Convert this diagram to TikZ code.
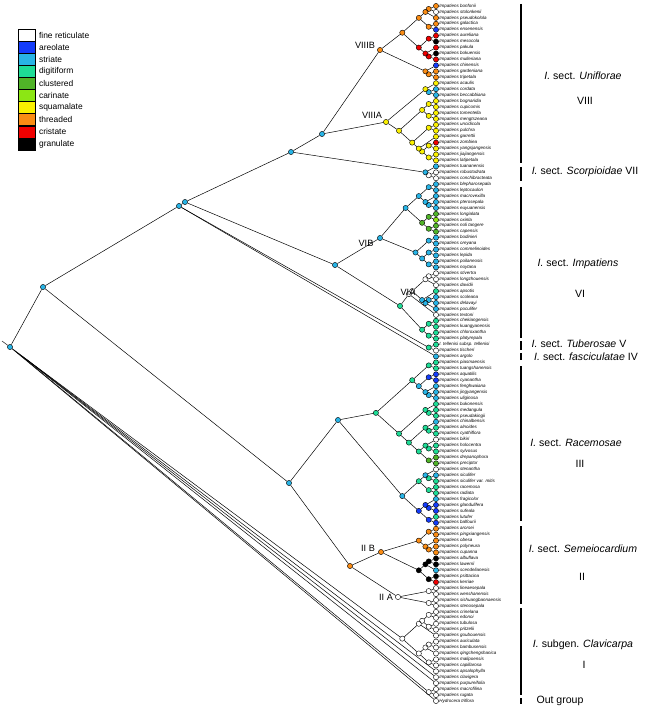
\documentclass[tikz,border=0pt]{standalone}
\usepackage{fontspec}
\setmainfont{Liberation Sans}
\usetikzlibrary{positioning}

% seed coat types
\definecolor{colw}{RGB}{255,255,255}
\definecolor{colb}{RGB}{20,60,250}
\definecolor{colc}{RGB}{40,180,230}
\definecolor{cola}{RGB}{30,220,150}
\definecolor{colg}{RGB}{80,180,40}
\definecolor{coll}{RGB}{140,230,20}
\definecolor{coly}{RGB}{250,240,0}
\definecolor{colo}{RGB}{250,140,20}
\definecolor{colr}{RGB}{240,0,0}
\definecolor{colk}{RGB}{0,0,0}

% clade node placed from its tip range
\newcommand\clade[4]{%
  \pgfmathsetmacro\cx{432-(#3-#2)*3.3}%
  \pgfmathsetmacro\cy{6+((#2+#3)/2-1)*5.94}%
  \node[inode, fill=col#4] (#1) at (\cx,\cy) {};}

\tikzset{
  inode/.style={circle, draw, inner sep=0pt, minimum size=0.13cm, line width=0.3pt},
  tiplbl/.style={anchor=west, inner sep=0.4pt, font=\fontsize{3.2}{3.6}\selectfont\itshape},
  branch/.style={line width=0.35pt},
  legbox/.style={draw, line width=0.4pt, minimum width=0.425cm, minimum height=0.3cm, inner sep=0pt},
  legtxt/.style={anchor=west, inner sep=0pt, font=\fontsize{6}{7}\selectfont},
  secbar/.style={line width=2.1pt},
  seclbl/.style={inner sep=0pt, font=\fontsize{7.5}{9}\selectfont},
  grplbl/.style={inner sep=0pt, font=\fontsize{6.5}{8}\selectfont},
}

\begin{document}
\begin{tikzpicture}[x=0.025cm, y=-0.025cm]
\useasboundingbox (0,0) rectangle (654,708);

% legend
\foreach \lab/\c [count=\i] in {fine reticulate/w, areolate/b, striate/c, digitiform/a,
  clustered/g, carinate/l, squamalate/y, threaded/o, cristate/r, granulate/k}{
  \node[legbox, fill=col\c] (k\i) at (26.5,{35.05+(\i-1)*12.1}) {};
  \node[legtxt, right=2.5pt of k\i] {\lab};
}

% tips
\foreach \nm/\c [count=\i] in {
  Impatiens bonfonii/o, Impatiens stolonkenii/w, Impatiens pseudokolola/o, Impatiens galactica/o,
  Impatiens ensenensis/b, Impatiens aureliana/r, Impatiens mesocola/k, Impatiens pakula/r,
  Impatiens bokuensis/k, Impatiens mulleriana/r, Impatiens chinensis/b, Impatiens gardeniana/o,
  Impatiens tripetala/o, Impatiens acaulis/y, Impatiens cordata/c, Impatiens beccabbiana/c,
  Impatiens bognaridia/y, Impatiens cupicomis/y, Impatiens tomentella/y, Impatiens mengtszeana/y,
  Impatiens uncidicola/y, Impatiens pulchra/y, Impatiens garrettii/y, Impatiens zombiea/r,
  Impatiens yangsjangensis/y, Impatiens jiajiangensis/y, Impatiens latipetala/y,
  Impatiens tuananensis/c, Impatiens robustodrata/w, Impatiens conchibracteata/w,
  Impatiens blepharosepala/c, Impatiens leptocaulon/c, Impatiens macrovexilla/c,
  Impatiens pterosepala/c, Impatiens euyuanensis/c, Impatiens longialata/g, Impatiens oxinla/l,
  Impatiens noli tangere/g, Impatiens capensis/g, Impatiens bodinieri/c, Impatiens oreyana/c,
  Impatiens commelinoides/c, Impatiens lepida/c, Impatiens poilaneosis/c, Impatiens noytana/c,
  Impatiens stivertra/w, Impatiens longzhouensis/w, Impatiens davidii/w, Impatiens apsotis/a,
  Impatiens scoleana/c, Impatiens delavayi/c, Impatiens poculifer/c, Impatiens textoni/w,
  Impatiens chekiangensis/a, Impatiens kuangyanensis/a, Impatiens chloroxantha/a,
  Impatiens platyrepala/a, I. tellenisi subsp. tellenisi/a, Impatiens tischeri/w,
  Impatiens argolo/c, Impatiens piasmaensis/a, Impatiens tuangshanensis/a, Impatiens aquatilis/b,
  Impatiens cyanantha/b, Impatiens fenghwaiana/c, Impatiens jingyangensis/c, Impatiens uliginosa/c,
  Impatiens bukonensis/a, Impatiens medangula/a, Impatiens pseudakingii/a, Impatiens chinalbensis/c,
  Impatiens alnoides/a, Impatiens cyathiflora/a, Impatiens bikiri/w, Impatiens holocentra/a,
  Impatiens sylvosus/a, Impatiens drepanophora/g, Impatiens preciptor/g, Impatiens stenantha/w,
  Impatiens siculifer/c, Impatiens siculifer var. mitis/a, Impatiens racemosa/a, Impatiens radiata/a,
  Impatiens fragicolor/c, Impatiens glandulifera/b, Impatiens sufeala/b, Impatiens lutufer/a,
  Impatiens balfourii/b, Impatiens arorsei/o, Impatiens pingxiangensis/o, Impatiens obesa/o,
  Impatiens polyneura/o, Impatiens cupanna/o, Impatiens albuflava/k, Impatiens lawerrii/k,
  Impatiens scendelianesis/c, Impatiens psittacina/k, Impatiens kerriae/r,
  Impatiens lineaesepala/w, Impatiens wenshanensis/w, Impatiens sishuangbannaensis/w,
  Impatiens stenosepala/w, Impatiens crinelana/w, Impatiens edonoi/w, Impatiens tubulosa/w,
  Impatiens pritzelii/w, Impatiens goubouensis/w, Impatiens auriculata/w, Impatiens bambusensis/w,
  Impatiens qingchengshanica/w, Impatiens malipoensis/w, Impatiens capillarosa/w,
  Impatiens apsalophylla/w, Impatiens clavigera/w, Impatiens purpureifolia/w,
  Impatiens macrofilina/w, Impatiens rugata/w, Hydrocera triflora/w}{
  \pgfmathsetmacro\ty{6+(\i-1)*5.94}
  \node[inode, fill=col\c] (t\i) at (436,\ty) {};
  \node[tiplbl] (n\i) at (438.5,\ty) {\nm};
}

% backbone
\foreach \nm/\x/\y/\c in {rt/10/347/c, na/43/287/c, nb/179/206/c, nb2/185/202/c,
  n78/291/152/c, n8/322/134/c, n8b/380/50/o, n8a/386/122/y,
  n6/335/265/c, n6b/380/238/c, n6a/400/306/a,
  ne/289/483/c, n3/338/420/c, n2/350/566/o, n2b/381/552/o, n2a/398/597/w}
  \node[inode, fill=col\c] (\nm) at (\x,\y) {};
\coordinate (stem) at (2,341);
\coordinate (k1) at (14,350);
\coordinate (k2) at (18,353);
\coordinate (k3) at (22,356);
\coordinate (k4) at (26,359);

% VIII
\clade{u12}{1}{2}{o} \clade{u13}{1}{3}{o} \clade{u45}{4}{5}{o} \clade{u15}{1}{5}{o}
\clade{u67}{6}{7}{r} \clade{u910}{9}{10}{r} \clade{u810}{8}{10}{r} \clade{u610}{6}{10}{r}
\clade{u110}{1}{10}{o} \clade{u1213}{12}{13}{o} \clade{u1113}{11}{13}{o}
\clade{a1516}{15}{16}{c} \clade{a1416}{14}{16}{y} \clade{a1718}{17}{18}{y} \clade{a1920}{19}{20}{y}
\clade{a1720}{17}{20}{y} \clade{a2122}{21}{22}{y} \clade{a2425}{24}{25}{y} \clade{a2627}{26}{27}{y}
\clade{a2427}{24}{27}{y} \clade{a2327}{23}{27}{y} \clade{a2127}{21}{27}{y} \clade{a1727}{17}{27}{y}
% VII
\clade{s2930}{29}{30}{w} \clade{n7}{28}{30}{c}
% VI
\clade{b3132}{31}{32}{c} \clade{b3435}{34}{35}{c} \clade{b3335}{33}{35}{c} \clade{b3135}{31}{35}{c}
\clade{b3637}{36}{37}{g} \clade{b3839}{38}{39}{g} \clade{b3639}{36}{39}{g} \clade{b3139}{31}{39}{c}
\clade{b4041}{40}{41}{c} \clade{b4243}{42}{43}{c} \clade{b4445}{44}{45}{c} \clade{b4245}{42}{45}{c}
\clade{b4045}{40}{45}{c}
\clade{c4647}{46}{47}{w} \clade{c4648}{46}{48}{w} \clade{c5051}{50}{51}{c} \clade{c5052}{50}{52}{c}
\clade{c4952}{49}{52}{c} \clade{c4652}{46}{52}{w} \clade{c4653}{46}{53}{w} \clade{c5455}{54}{55}{a}
\clade{c5657}{56}{57}{a} \clade{c5457}{54}{57}{a}
% V
\clade{nv}{58}{59}{a}
% III
\clade{d6162}{61}{62}{a} \clade{d6364}{63}{64}{b} \clade{d6667}{66}{67}{c} \clade{d6567}{65}{67}{c}
\clade{d6367}{63}{67}{c} \clade{d6167}{61}{67}{a} \clade{d6970}{69}{70}{a} \clade{d6870}{68}{70}{a}
\clade{d7273}{72}{73}{a} \clade{d7173}{71}{73}{a} \clade{d7576}{75}{76}{a} \clade{d7476}{74}{76}{a}
\clade{d7778}{77}{78}{g} \clade{d7478}{74}{78}{a} \clade{d7178}{71}{78}{a} \clade{d6878}{68}{78}{a}
\clade{d6178}{61}{78}{a}
\clade{e8081}{80}{81}{a} \clade{e7981}{79}{81}{c} \clade{e8283}{82}{83}{a} \clade{e7983}{79}{83}{a}
\clade{e8586}{85}{86}{b} \clade{e8486}{84}{86}{b} \clade{e8788}{87}{88}{b} \clade{e8488}{84}{88}{b}
\clade{e7988}{79}{88}{c}
% II
\clade{f8990}{89}{90}{o} \clade{f9293}{92}{93}{o} \clade{f9193}{91}{93}{o} \clade{f8993}{89}{93}{o}
\clade{f9495}{94}{95}{k} \clade{f9496}{94}{96}{k} \clade{f9798}{97}{98}{k} \clade{f9498}{94}{98}{k}
\clade{h99100}{99}{100}{w} \clade{h101102}{101}{102}{w}
% I
\clade{m103104}{103}{104}{w} \clade{m105106}{105}{106}{w} \clade{m103106}{103}{106}{w}
\clade{m103107}{103}{107}{w} \clade{m108109}{108}{109}{w} \clade{m108110}{108}{110}{w}
\clade{m111112}{111}{112}{w} \clade{m108112}{108}{112}{w} \clade{m103112}{103}{112}{w}
\clade{m116117}{116}{117}{w}

\foreach \a/\b in {stem/rt, rt/t118, rt/k1, rt/na, na/nb, na/ne,
  nb/nb2, nb/nv, nb/t60, nb2/n78, nb2/n6, n78/n8, n78/n7,
  n8/n8b, n8/n8a, n8b/u110, n8b/u1113, u110/u15, u110/u610, u15/u13, u15/u45,
  u13/u12, u13/t3, u12/t1, u12/t2, u45/t4, u45/t5, u610/u67, u610/u810, u67/t6, u67/t7,
  u810/t8, u810/u910, u910/t9, u910/t10, u1113/t11, u1113/u1213, u1213/t12, u1213/t13,
  n8a/a1416, n8a/a1727, a1416/t14, a1416/a1516, a1516/t15, a1516/t16,
  a1727/a1720, a1727/a2127, a1720/a1718, a1720/a1920, a1718/t17, a1718/t18,
  a1920/t19, a1920/t20, a2127/a2122, a2127/a2327, a2122/t21, a2122/t22,
  a2327/t23, a2327/a2427, a2427/a2425, a2427/a2627, a2425/t24, a2425/t25,
  a2627/t26, a2627/t27,
  n7/t28, n7/s2930, s2930/t29, s2930/t30,
  n6/n6b, n6/n6a, n6b/b3139, n6b/b4045, b3139/b3135, b3139/b3639, b3135/b3132, b3135/b3335,
  b3132/t31, b3132/t32, b3335/t33, b3335/b3435, b3435/t34, b3435/t35,
  b3639/b3637, b3639/b3839, b3637/t36, b3637/t37, b3839/t38, b3839/t39,
  b4045/b4041, b4045/b4245, b4041/t40, b4041/t41, b4245/b4243, b4245/b4445,
  b4243/t42, b4243/t43, b4445/t44, b4445/t45,
  n6a/c4653, n6a/c5457, c4653/c4652, c4653/t53, c4652/c4648, c4652/c4952,
  c4648/c4647, c4648/t48, c4647/t46, c4647/t47, c4952/t49, c4952/c5052,
  c5052/c5051, c5052/t52, c5051/t50, c5051/t51, c5457/c5455, c5457/c5657,
  c5455/t54, c5455/t55, c5657/t56, c5657/t57, nv/t58, nv/t59,
  ne/n3, ne/n2, n3/d6178, n3/e7988, d6178/d6167, d6178/d6878, d6167/d6162, d6167/d6367,
  d6162/t61, d6162/t62, d6367/d6364, d6367/d6567, d6364/t63, d6364/t64,
  d6567/t65, d6567/d6667, d6667/t66, d6667/t67, d6878/d6870, d6878/d7178,
  d6870/t68, d6870/d6970, d6970/t69, d6970/t70, d7178/d7173, d7178/d7478,
  d7173/t71, d7173/d7273, d7273/t72, d7273/t73, d7478/d7476, d7478/d7778,
  d7476/t74, d7476/d7576, d7576/t75, d7576/t76, d7778/t77, d7778/t78,
  e7988/e7983, e7988/e8488, e7983/e7981, e7983/e8283, e7981/t79, e7981/e8081,
  e8081/t80, e8081/t81, e8283/t82, e8283/t83, e8488/e8486, e8488/e8788,
  e8486/t84, e8486/e8586, e8586/t85, e8586/t86, e8788/t87, e8788/t88,
  n2/n2b, n2/n2a, n2b/f8993, n2b/f9498, f8993/f8990, f8993/f9193, f8990/t89, f8990/t90,
  f9193/t91, f9193/f9293, f9293/t92, f9293/t93, f9498/f9496, f9498/f9798,
  f9496/f9495, f9496/t96, f9495/t94, f9495/t95, f9798/t97, f9798/t98,
  n2a/h99100, n2a/h101102, h99100/t99, h99100/t100, h101102/t101, h101102/t102,
  k1/m116117, k1/k2, k2/t115, k2/k3, k3/t114, k3/k4, k4/t113, k4/m103112,
  m103112/m103107, m103112/m108112, m103107/m103106, m103107/t107,
  m103106/m103104, m103106/m105106, m103104/t103, m103104/t104, m105106/t105, m105106/t106,
  m108112/m108110, m108112/m111112, m108110/m108109, m108110/t110,
  m108109/t108, m108109/t109, m111112/t111, m111112/t112, m116117/t116, m116117/t117}
  \draw[branch] (\a) -- (\b);

% clade labels on the tree
\node[grplbl] (l8b) at (365,45) {VIIIB};
\node[grplbl] (l8a) at (372,115) {VIIIA};
\node[grplbl] (l6b) at (366,243) {VIB};
\node[grplbl] (l6a) at (408,292) {VIA};
\node[grplbl] (l2b) at (368,548) {II B};
\node[grplbl] (l2a) at (386,597) {II A};

% sections
\draw[secbar] (521,4) -- (521,163);
\draw[secbar] (521,167) -- (521,181);
\draw[secbar] (521,187) -- (521,338);
\draw[secbar] (521,341) -- (521,350);
\draw[secbar] (521,353) -- (521,360);
\draw[secbar] (521,366) -- (521,521);
\draw[secbar] (521,526) -- (521,604);
\draw[secbar] (521,608) -- (521,695);
\draw[secbar] (521,698) -- (521,704);
\node[seclbl] (s8) at (583,76) {\textit{I.} sect. \textit{Uniflorae}};
\node[seclbl] (r8) at (585,101) {VIII};
\node[seclbl] (s7) at (585,172) {\textit{I.} sect. \textit{Scorpioidae} VII};
\node[seclbl] (s6) at (578,264) {\textit{I.} sect. \textit{Impatiens}};
\node[seclbl] (r6) at (580,294) {VI};
\node[seclbl] (s5) at (579,344) {\textit{I.} sect. \textit{Tuberosae} V};
\node[seclbl] (s4) at (586,357) {\textit{I.} sect. \textit{fasciculatae} IV};
\node[seclbl] (s3) at (576,443) {\textit{I.} sect. \textit{Racemosae}};
\node[seclbl] (r3) at (580,464) {III};
\node[seclbl] (s2) at (583,549) {\textit{I.} sect. \textit{Semeiocardium}};
\node[seclbl] (r2) at (582,577) {II};
\node[seclbl] (s1) at (583,645) {\textit{I.} subgen. \textit{Clavicarpa}};
\node[seclbl] (r1) at (584,665) {I};
\node[seclbl] (s0) at (560,701) {Out group};
\end{tikzpicture}
\end{document}
